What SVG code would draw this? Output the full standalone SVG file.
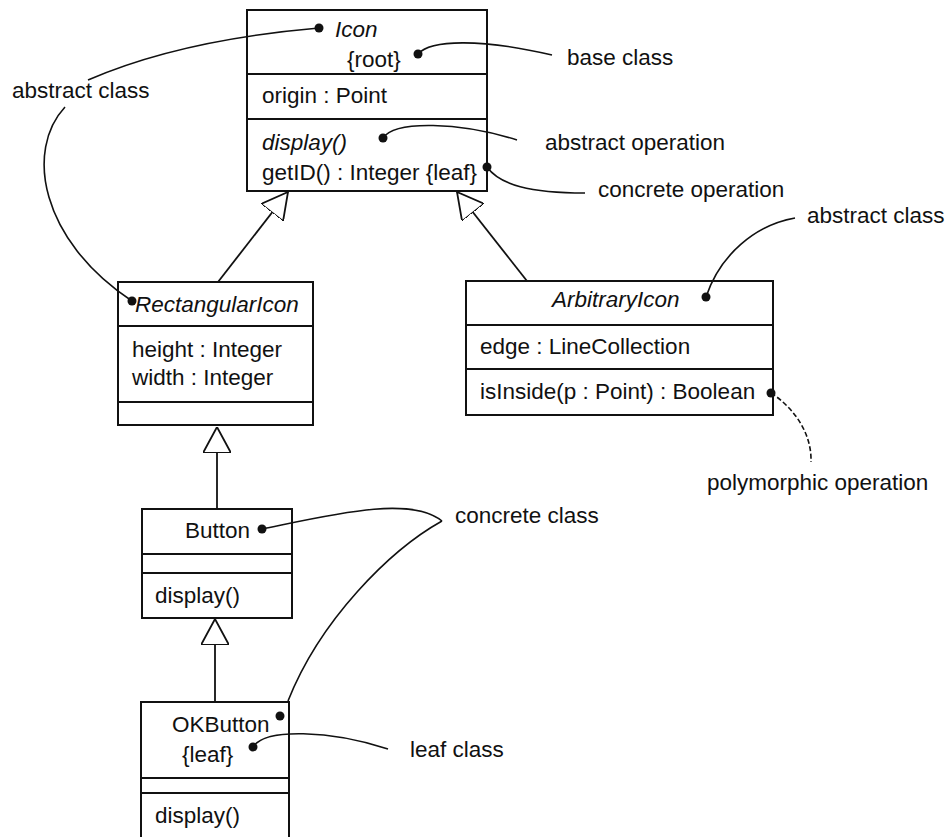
<svg xmlns="http://www.w3.org/2000/svg" width="948" height="837" viewBox="0 0 948 837">
<style>
text{font-family:"Liberation Sans",Arial,sans-serif;font-size:22.5px;fill:#111}
.it{font-style:italic}
.box{fill:#fff;stroke:#111;stroke-width:2}
.div{stroke:#111;stroke-width:2}
.note{fill:none;stroke:#111;stroke-width:1.6}
.dash{stroke-dasharray:5 2.5}
.gen{fill:none;stroke:#111;stroke-width:1.8;marker-end:url(#tri)}
.dot{fill:#111}
</style>
<defs>
<marker id="tri" viewBox="0 0 26 28" refX="26" refY="14" markerWidth="26" markerHeight="28" markerUnits="userSpaceOnUse" orient="auto">
<path d="M0,0 L26,14 L0,28 Z" fill="#fff" stroke="#111" stroke-width="1.8"/>
</marker>
</defs>
<rect width="948" height="837" fill="#fff"/>

<g id="Icon">
<rect class="box" x="247" y="10" width="240" height="181"/>
<line class="div" x1="247" y1="74" x2="487" y2="74"/>
<line class="div" x1="247" y1="119" x2="487" y2="119"/>
<text class="it" x="335" y="37">Icon</text>
<text x="347" y="67">{root}</text>
<text x="262" y="103">origin : Point</text>
<text class="it" x="262" y="150">display()</text>
<text x="262" y="180">getID() : Integer {leaf}</text>
</g>

<g id="RectangularIcon">
<rect class="box" x="118" y="282" width="195" height="143"/>
<line class="div" x1="118" y1="326" x2="313" y2="326"/>
<line class="div" x1="118" y1="402" x2="313" y2="402"/>
<text class="it" x="135" y="312">RectangularIcon</text>
<text x="132" y="357">height : Integer</text>
<text x="132" y="385">width : Integer</text>
</g>

<g id="ArbitraryIcon">
<rect class="box" x="466" y="281" width="307" height="134"/>
<line class="div" x1="466" y1="325" x2="773" y2="325"/>
<line class="div" x1="466" y1="369" x2="773" y2="369"/>
<text class="it" x="552" y="307">ArbitraryIcon</text>
<text x="480" y="354">edge : LineCollection</text>
<text x="480" y="399">isInside(p : Point) : Boolean</text>
</g>

<g id="Button">
<rect class="box" x="142" y="509" width="150" height="109"/>
<line class="div" x1="142" y1="554" x2="292" y2="554"/>
<line class="div" x1="142" y1="573" x2="292" y2="573"/>
<text x="185" y="538">Button</text>
<text x="155" y="603">display()</text>
</g>

<g id="OKButton">
<rect class="box" x="141" y="702" width="148" height="150"/>
<line class="div" x1="141" y1="778" x2="289" y2="778"/>
<line class="div" x1="141" y1="793" x2="289" y2="793"/>
<text x="172" y="732">OKButton</text>
<text x="182" y="762">{leaf}</text>
<text x="155" y="823">display()</text>
</g>

<g id="notes">
<text x="12" y="98">abstract class</text>
<text x="567" y="65">base class</text>
<text x="545" y="150">abstract operation</text>
<text x="598" y="197">concrete operation</text>
<text x="807" y="223">abstract class</text>
<text x="707" y="490">polymorphic operation</text>
<text x="455" y="523">concrete class</text>
<text x="410" y="757">leaf class</text>
</g>

<g id="connectors">
<line class="gen" x1="218" y1="282" x2="288" y2="192"/>
<line class="gen" x1="527" y1="281" x2="457" y2="192"/>
<line class="gen" x1="217" y1="509" x2="217" y2="427"/>
<line class="gen" x1="215" y1="702" x2="215" y2="619"/>

<path class="note" d="M319,28 Q180,40 88,80"/>
<path class="note" d="M65,107 C25,150 40,240 132,301"/>
<path class="note" d="M418,54 C430,40 480,38 552,55"/>
<path class="note" d="M383,138 C395,120 460,122 517,140"/>
<path class="note" d="M487,167 C500,185 530,193 585,193"/>
<path class="note" d="M795,218 C755,225 720,255 706,297"/>
<path class="note dash" d="M771,393 C790,405 812,430 811,462"/>
<path class="note" d="M262,529 C330,515 410,495 442,521"/>
<path class="note" d="M442,521 C390,550 320,620 288,701"/>
<path class="note" d="M253,747 C265,728 330,730 388,749"/>

<circle class="dot" cx="319" cy="28" r="4.5"/>
<circle class="dot" cx="418" cy="54" r="4.5"/>
<circle class="dot" cx="383" cy="138" r="4.5"/>
<circle class="dot" cx="487" cy="167" r="4.5"/>
<circle class="dot" cx="132" cy="301" r="4.5"/>
<circle class="dot" cx="706" cy="297" r="4.5"/>
<circle class="dot" cx="771" cy="393" r="4.5"/>
<circle class="dot" cx="262" cy="529" r="4.5"/>
<circle class="dot" cx="280" cy="716" r="4.5"/>
<circle class="dot" cx="253" cy="747" r="4.5"/>
</g>
</svg>
